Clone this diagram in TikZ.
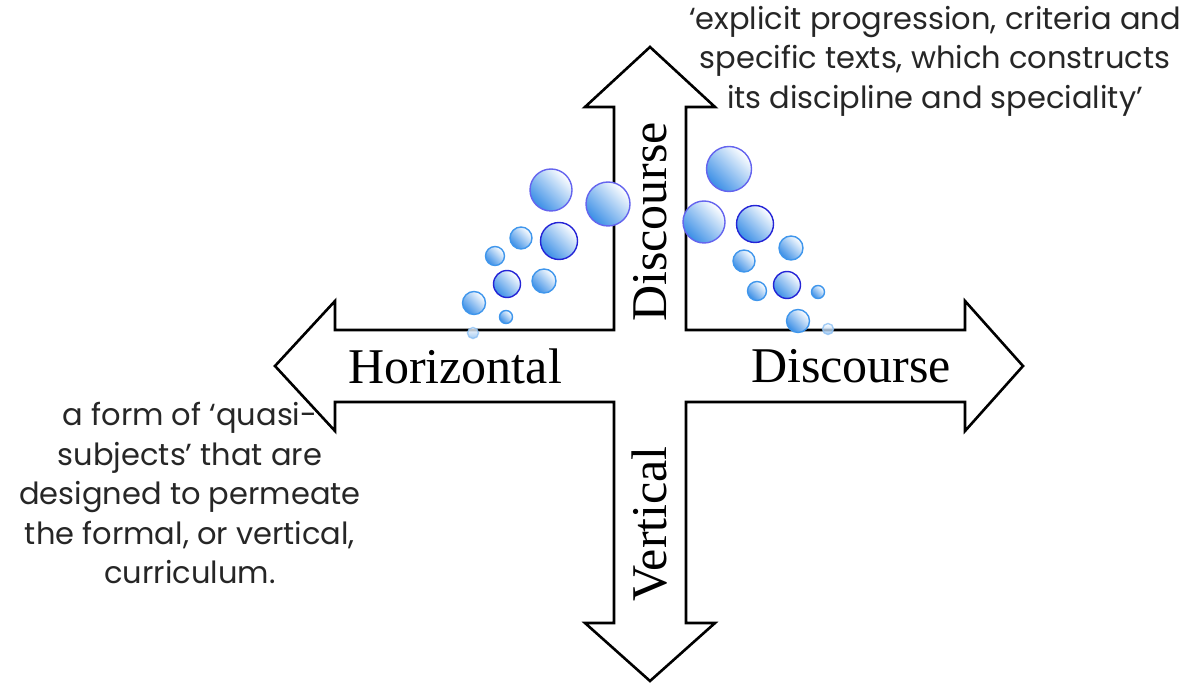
\documentclass[tikz,border=0pt]{standalone}
\usepackage{fontspec}
\newfontfamily\gothic{Poppins}
\newfontfamily\labelserif{Liberation Serif}
\begin{document}
\begin{tikzpicture}[x=1pt,y=-1pt,
  crossarrow/.style={draw=black,line width=2.6pt,fill=white,line join=miter},
  lbl/.style={font=\labelserif\fontsize{50}{54}\selectfont,inner sep=0pt},
  note/.style={font=\gothic\fontsize{30.5}{39.5}\selectfont,align=center,text=black!85,inner sep=0pt},
  bub/.style={shading=axis,top color=white,bottom color=bubblue,shading angle=-45,line width=1.4pt},
  bl/.style={bub,draw=lightedge},
  bm/.style={bub,draw=midedge},
  bd/.style={bub,draw=darkedge},
  bf/.style={bub,draw=lightedge!60,bottom color=bubblue!60,opacity=0.8}
]
\definecolor{bubblue}{HTML}{3A8EE6}
\definecolor{lightedge}{HTML}{3F96EC}
\definecolor{midedge}{HTML}{6464EE}
\definecolor{darkedge}{HTML}{2424D6}
\useasboundingbox (0,0) rectangle (1192,684);
% cross of four arrows
\draw[crossarrow] (650,47) -- (715,107) -- (686,107) -- (686,330) -- (965,330) -- (965,301)
  -- (1023,366) -- (965,431) -- (965,402) -- (686,402) -- (686,623) -- (715,623)
  -- (650,681) -- (585,623) -- (614,623) -- (614,402) -- (335,402) -- (335,431)
  -- (275,366) -- (335,301) -- (335,330) -- (614,330) -- (614,107) -- (585,107) -- cycle;
% labels
\node[lbl] (hor) at (455,366) {Horizontal};
\node[lbl] (dis) at (851,366) {Discourse};
\node[lbl,rotate=90] (vdis) at (650,222) {Discourse};
\node[lbl,rotate=90] (ver) at (650,524) {Vertical};
% bubbles left
\draw[bm] (551,190) circle (21);
\draw[bm] (608,204) circle (22);
\draw[bd] (559,241) circle (18.5);
\draw[bl] (521,238) circle (11);
\draw[bl] (495,256) circle (9.5);
\draw[bd] (507,284) circle (13.5);
\draw[bl] (544,281) circle (12);
\draw[bl] (474,303) circle (11.5);
\draw[bl] (506,317) circle (6.5);
\draw[bf] (473,333) circle (5.5);
% bubbles right
\draw[bm] (729,169) circle (22.5);
\draw[bm] (704,222) circle (21);
\draw[bd] (755,224) circle (18.5);
\draw[bl] (791,248) circle (12);
\draw[bl] (744,261) circle (11);
\draw[bl] (757,291) circle (9.5);
\draw[bd] (787,285) circle (13.5);
\draw[bl] (818,292) circle (6.5);
\draw[bl] (798,321) circle (11.5);
\draw[bf] (828,329) circle (5.5);
% notes
\node[note] (top) at (935,61) {‘explicit progression, criteria and\\specific texts, which constructs\\its discipline and speciality’};
\node[note] (bot) at (190,493) {a form of ‘quasi-\\subjects’ that are\\designed to permeate\\the formal, or vertical,\\curriculum.};
\end{tikzpicture}
\end{document}
